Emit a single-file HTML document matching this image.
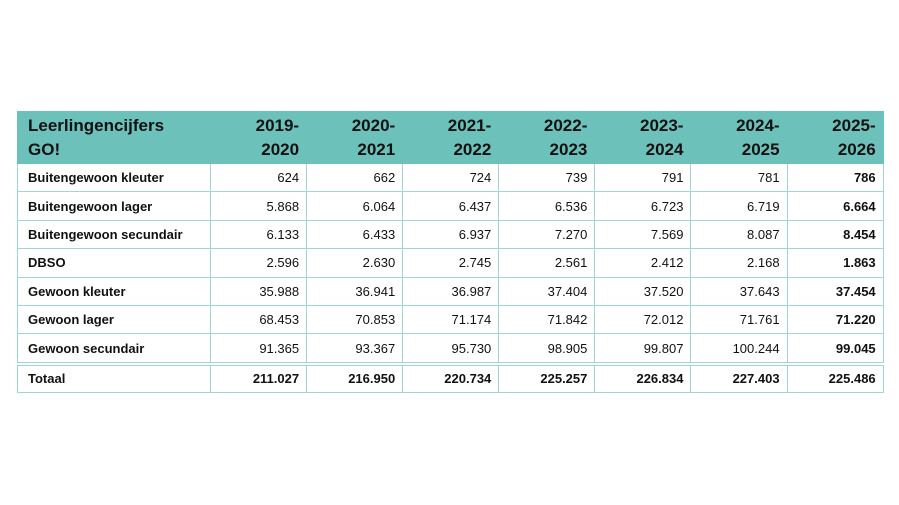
<!DOCTYPE html>
<html><head><style>
body{margin:0;width:899px;height:505px;background:#fff;position:relative;font-family:"Liberation Sans",sans-serif}
table{position:absolute;left:17px;top:111px;border-collapse:collapse;table-layout:fixed;width:866px}
td,th{border:1.5px solid #9fd6d2;padding:0 7px;font-size:13px;color:#111;text-align:right;height:27.4px;white-space:nowrap}
th{background:#6cc1bb;font-size:17px;font-weight:bold;line-height:24px;height:50px;border-color:#6cc1bb;padding-top:1px}
td:first-child,th:first-child{text-align:left;font-weight:bold;padding-left:10px}
td:last-child{font-weight:bold}
tr.tot td{font-weight:bold;border-top:4px double #9fd6d2;height:26px}
</style></head><body>
<table>
<colgroup><col style="width:193px"><col span="7" style="width:96.1px"></colgroup>
<tr><th>Leerlingencijfers<br>GO!</th><th>2019-<br>2020</th><th>2020-<br>2021</th><th>2021-<br>2022</th><th>2022-<br>2023</th><th>2023-<br>2024</th><th>2024-<br>2025</th><th>2025-<br>2026</th></tr>
<tr><td>Buitengewoon kleuter</td><td>624</td><td>662</td><td>724</td><td>739</td><td>791</td><td>781</td><td>786</td></tr>
<tr><td>Buitengewoon lager</td><td>5.868</td><td>6.064</td><td>6.437</td><td>6.536</td><td>6.723</td><td>6.719</td><td>6.664</td></tr>
<tr><td>Buitengewoon secundair</td><td>6.133</td><td>6.433</td><td>6.937</td><td>7.270</td><td>7.569</td><td>8.087</td><td>8.454</td></tr>
<tr><td>DBSO</td><td>2.596</td><td>2.630</td><td>2.745</td><td>2.561</td><td>2.412</td><td>2.168</td><td>1.863</td></tr>
<tr><td>Gewoon kleuter</td><td>35.988</td><td>36.941</td><td>36.987</td><td>37.404</td><td>37.520</td><td>37.643</td><td>37.454</td></tr>
<tr><td>Gewoon lager</td><td>68.453</td><td>70.853</td><td>71.174</td><td>71.842</td><td>72.012</td><td>71.761</td><td>71.220</td></tr>
<tr><td>Gewoon secundair</td><td>91.365</td><td>93.367</td><td>95.730</td><td>98.905</td><td>99.807</td><td>100.244</td><td>99.045</td></tr>
<tr class="tot"><td>Totaal</td><td>211.027</td><td>216.950</td><td>220.734</td><td>225.257</td><td>226.834</td><td>227.403</td><td>225.486</td></tr>
</table>
</body></html>
